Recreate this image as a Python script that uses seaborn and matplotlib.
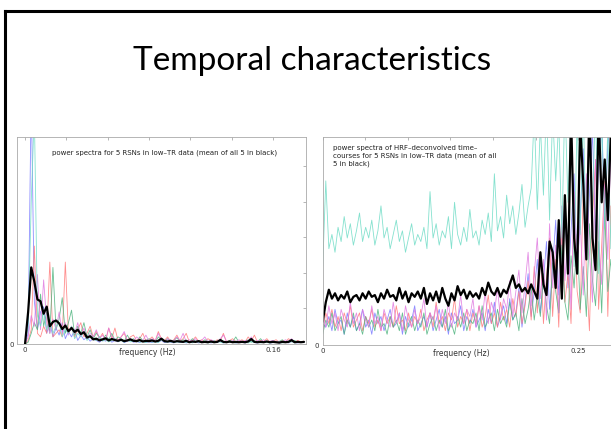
import numpy as np
import pandas as pd
import matplotlib
matplotlib.use('Agg')
import matplotlib.pyplot as plt
import seaborn as sns

# %%
# Values read off the two spectra (y in tick units, x sampled evenly)
title = 'Temporal characteristics'
left_caption = 'power spectra for 5 RSNs in low\u2013TR data (mean of all 5 in black)'
right_caption = ('power spectra of HRF\u2013deconvolved time\u2013\n'
                 'courses for 5 RSNs in low\u2013TR data (mean of all\n'
                 '5 in black)')
rsn_names = ['blue', 'red', 'green', 'magenta', 'cyan']
rsn_colors = {'blue': '#7a7aff', 'red': '#ff7a7a', 'green': '#4fb47f',
              'magenta': '#e07ae0', 'cyan': '#6fdcc6'}

# left panel: 0 .. 0.18 Hz
mean_left = [0.0, 0.9, 2.15, 1.75, 1.25, 1.2, 0.85, 1.05, 0.5, 0.62,
             0.66, 0.58, 0.42, 0.52, 0.36, 0.45, 0.34, 0.40, 0.28, 0.33,
             0.18, 0.22, 0.13, 0.15, 0.10, 0.13, 0.16, 0.10, 0.14, 0.11,
             0.09, 0.12, 0.08, 0.10, 0.13, 0.09, 0.08, 0.11, 0.07, 0.09,
             0.08, 0.10, 0.07, 0.09, 0.15, 0.08, 0.07, 0.09, 0.06, 0.08,
             0.07, 0.06, 0.09, 0.05, 0.07, 0.06, 0.08, 0.05, 0.06, 0.05,
             0.07, 0.05, 0.06, 0.11, 0.06, 0.05, 0.07, 0.05, 0.06, 0.05,
             0.06, 0.05, 0.07, 0.14, 0.06, 0.05, 0.06, 0.05, 0.07, 0.05,
             0.06, 0.05, 0.04, 0.06, 0.05, 0.06, 0.11, 0.05, 0.06, 0.05,
             0.06]
blue_left = [0.0, 0.3, 7.0, 1.2, 0.4, 0.9, 1.05, 0.3, 0.6, 0.2,
             0.45, 0.25, 0.6, 0.15, 0.35, 0.2, 0.4, 0.1, 0.25, 0.12,
             0.2, 0.08, 0.15, 0.1, 0.05, 0.12, 0.08, 0.15, 0.05, 0.1,
             0.06, 0.12, 0.04, 0.08, 0.1, 0.05, 0.07, 0.04, 0.09, 0.05,
             0.06, 0.04, 0.08, 0.05, 0.1, 0.04, 0.06, 0.05, 0.03, 0.07,
             0.04, 0.06, 0.03, 0.05, 0.04, 0.07, 0.03, 0.05, 0.04, 0.06,
             0.03, 0.05, 0.04, 0.08, 0.03, 0.05, 0.04, 0.06, 0.03, 0.04,
             0.05, 0.03, 0.06, 0.08, 0.04, 0.03, 0.05, 0.04, 0.06, 0.03,
             0.04, 0.05, 0.03, 0.04, 0.06, 0.03, 0.07, 0.04, 0.03, 0.05,
             0.04]
red_left = [0.0, 0.1, 0.4, 2.75, 0.3, 0.2, 0.5, 0.3, 2.3, 0.2,
            0.3, 0.4, 0.2, 2.3, 0.3, 0.5, 0.2, 0.4, 0.6, 0.2,
            0.3, 0.5, 0.2, 0.35, 0.15, 0.3, 0.1, 0.45, 0.15, 0.45,
            0.1, 0.2, 0.3, 0.08, 0.2, 0.25, 0.1, 0.15, 0.3, 0.08,
            0.12, 0.2, 0.08, 0.35, 0.15, 0.1, 0.2, 0.07, 0.12, 0.25,
            0.08, 0.15, 0.3, 0.06, 0.1, 0.2, 0.08, 0.12, 0.06, 0.15,
            0.1, 0.05, 0.12, 0.08, 0.3, 0.06, 0.1, 0.15, 0.05, 0.08,
            0.12, 0.06, 0.2, 0.08, 0.25, 0.05, 0.1, 0.07, 0.15, 0.05,
            0.08, 0.12, 0.05, 0.1, 0.06, 0.15, 0.08, 0.05, 0.1, 0.06,
            0.08]
green_left = [0.0, 0.05, 0.3, 0.6, 0.4, 1.4, 0.5, 0.9, 0.3, 2.15,
              0.4, 0.7, 1.3, 0.3, 0.6, 0.95, 0.25, 0.5, 0.3, 0.6,
              0.2, 0.4, 0.15, 0.3, 0.2, 0.1, 0.25, 0.12, 0.3, 0.1,
              0.2, 0.15, 0.08, 0.25, 0.1, 0.15, 0.06, 0.2, 0.1, 0.08,
              0.15, 0.1, 0.06, 0.2, 0.12, 0.08, 0.15, 0.05, 0.1, 0.18,
              0.06, 0.12, 0.08, 0.05, 0.15, 0.07, 0.1, 0.05, 0.12, 0.08,
              0.06, 0.1, 0.05, 0.14, 0.07, 0.05, 0.1, 0.06, 0.2, 0.05,
              0.08, 0.06, 0.12, 0.05, 0.09, 0.06, 0.15, 0.05, 0.08, 0.06,
              0.1, 0.05, 0.07, 0.12, 0.05, 0.08, 0.06, 0.1, 0.05, 0.07,
              0.06]
magenta_left = [0.0, 0.2, 0.8, 0.5, 1.95, 0.4, 1.8, 0.6, 0.3, 0.7,
                0.4, 0.9, 0.3, 0.6, 0.25, 0.5, 0.3, 0.6, 0.2, 0.45,
                0.15, 0.3, 0.2, 0.4, 0.15, 0.25, 0.1, 0.45, 0.2, 0.15,
                0.1, 0.2, 0.35, 0.1, 0.15, 0.08, 0.2, 0.12, 0.1, 0.25,
                0.08, 0.15, 0.1, 0.3, 0.12, 0.06, 0.15, 0.1, 0.08, 0.2,
                0.1, 0.3, 0.06, 0.12, 0.08, 0.15, 0.05, 0.1, 0.2, 0.06,
                0.12, 0.08, 0.05, 0.15, 0.25, 0.08, 0.06, 0.1, 0.05, 0.12,
                0.06, 0.1, 0.08, 0.2, 0.05, 0.1, 0.07, 0.12, 0.05, 0.08,
                0.1, 0.06, 0.08, 0.05, 0.12, 0.07, 0.15, 0.05, 0.08, 0.06,
                0.07]
cyan_left = [0.0, 0.5, 4.0, 6.5, 0.8, 0.5, 0.9, 0.4, 0.7, 0.3,
             0.5, 0.6, 0.2, 0.4, 0.3, 0.5, 0.15, 0.3, 0.2, 0.35,
             0.1, 0.2, 0.15, 0.1, 0.2, 0.08, 0.12, 0.06, 0.1, 0.15,
             0.07, 0.1, 0.05, 0.12, 0.06, 0.08, 0.1, 0.05, 0.07, 0.04,
             0.09, 0.05, 0.07, 0.04, 0.12, 0.06, 0.05, 0.08, 0.04, 0.06,
             0.05, 0.07, 0.04, 0.06, 0.03, 0.08, 0.05, 0.04, 0.06, 0.03,
             0.05, 0.04, 0.07, 0.05, 0.03, 0.06, 0.04, 0.05, 0.03, 0.06,
             0.04, 0.05, 0.03, 0.07, 0.04, 0.06, 0.03, 0.05, 0.04, 0.03,
             0.05, 0.04, 0.06, 0.03, 0.05, 0.04, 0.08, 0.03, 0.05, 0.04,
             0.05]

# right panel: 0 .. 0.285 Hz
mean_right = [0.65, 1.2, 1.55, 1.3, 1.45, 1.25, 1.4, 1.3, 1.5, 1.2,
              1.35, 1.4, 1.25, 1.45, 1.3, 1.5, 1.35, 1.4, 1.2, 1.45,
              1.3, 1.55, 1.35, 1.4, 1.25, 1.6, 1.3, 1.5, 1.2, 1.45,
              1.35, 1.5, 1.3, 1.6, 1.15, 1.45, 1.25, 1.5, 1.2, 1.6,
              1.3, 1.1, 1.45, 1.25, 1.65, 1.4, 1.55, 1.3, 1.5, 1.35,
              1.45, 1.3, 1.6, 1.4, 1.75, 1.5, 1.4, 1.6, 1.35, 1.55,
              1.45, 1.7, 1.95, 1.6, 1.7, 1.5, 1.6, 1.45, 1.7, 1.5,
              1.3, 2.6, 1.7, 1.4, 2.9, 2.6, 1.6, 3.5, 1.3, 4.2,
              2.0, 6.5, 3.0, 2.0, 6.2, 4.5, 2.4, 6.8, 3.0, 2.1,
              6.5, 4.0, 5.2, 3.5, 6.0, 4.8]
blue_right = [0.6, 0.5, 0.8, 0.4, 1.0, 0.6, 0.7, 0.3, 0.9, 0.5,
              0.8, 0.4, 0.6, 1.0, 0.5, 0.7, 0.3, 0.9, 0.6, 0.8,
              0.4, 0.7, 1.0, 0.5, 0.6, 0.9, 0.3, 0.8, 0.5, 0.7,
              1.1, 0.4, 0.6, 0.8, 0.5, 0.9, 0.4, 0.7, 1.0, 0.5,
              0.8, 0.3, 0.9, 0.6, 0.7, 1.1, 0.4, 0.8, 0.6, 1.0,
              0.5, 0.7, 0.9, 0.4, 1.0, 0.6, 1.2, 0.5, 0.8, 1.1,
              0.6, 1.3, 0.7, 0.9, 1.6, 0.5, 1.2, 2.0, 0.8, 1.5,
              2.4, 0.9, 1.8, 2.9, 1.0, 2.2, 3.5, 1.4, 2.7, 4.0,
              1.6, 3.2, 4.8, 2.0, 3.6, 5.5, 2.5, 4.2, 6.0, 3.0,
              5.0, 6.3, 3.4, 5.6, 6.5, 4.1]
red_right = [0.4, 0.9, 0.6, 1.0, 0.5, 0.8, 0.4, 0.9, 0.6, 1.1,
             0.5, 0.7, 0.9, 0.4, 0.8, 0.6, 1.0, 0.5, 0.7, 0.4,
             0.9, 0.6, 0.8, 0.5, 1.1, 0.6, 0.7, 0.4, 0.9, 0.5,
             0.8, 0.6, 1.0, 0.4, 0.7, 0.9, 0.5, 1.2, 0.6, 0.8,
             0.4, 0.9, 0.7, 1.3, 0.5, 0.8, 0.6, 1.0, 0.4, 0.9,
             0.6, 1.1, 0.5, 0.8, 1.4, 0.6, 0.9, 0.5, 1.2, 0.7,
             1.0, 0.5, 1.3, 0.8, 1.5, 0.6, 1.1, 1.8, 0.7, 2.2,
             0.9, 2.6, 0.6, 1.9, 3.0, 0.8, 2.4, 0.5, 3.3, 1.2,
             2.0, 0.6, 3.8, 1.5, 0.9, 4.4, 2.1, 0.4, 3.6, 5.2,
             1.0, 2.8, 4.6, 0.8, 3.9, 2.2]
green_right = [0.3, 0.7, 0.5, 0.9, 0.4, 0.6, 0.8, 0.3, 0.7, 0.5,
               0.9, 0.4, 0.6, 0.3, 0.8, 0.5, 0.7, 0.4, 1.0, 0.5,
               0.6, 0.3, 0.8, 0.5, 0.7, 0.4, 0.9, 0.3, 0.6, 0.8,
               0.4, 0.7, 0.5, 0.9, 0.3, 0.6, 0.8, 0.4, 0.7, 0.5,
               1.0, 0.4, 0.6, 0.3, 0.8, 0.5, 0.9, 0.4, 0.7, 0.6,
               0.9, 0.4, 1.1, 0.5, 0.7, 0.9, 0.4, 1.0, 0.6, 0.8,
               0.5, 1.2, 0.7, 0.9, 0.4, 1.3, 0.6, 1.0, 1.6, 0.7,
               1.4, 0.8, 2.0, 1.1, 0.6, 2.3, 1.5, 0.9, 2.8, 1.2,
               0.7, 2.5, 1.6, 3.1, 1.0, 2.2, 0.8, 3.4, 1.8, 1.1,
               2.9, 0.9, 3.7, 1.5, 2.4, 1.2]
magenta_right = [0.8, 0.5, 1.1, 0.6, 0.9, 0.4, 1.0, 0.7, 0.5, 1.2,
                 0.6, 0.9, 0.4, 1.0, 0.7, 0.5, 1.1, 0.6, 0.8, 0.4,
                 1.0, 0.7, 0.5, 1.2, 0.6, 0.9, 0.4, 1.1, 0.7, 0.5,
                 1.0, 0.6, 0.8, 1.3, 0.5, 0.9, 0.7, 1.1, 0.4, 1.0,
                 0.6, 1.2, 0.5, 0.9, 0.7, 1.4, 0.6, 1.0, 0.8, 1.3,
                 0.5, 1.1, 0.7, 1.5, 0.6, 1.2, 0.9, 1.6, 0.7, 1.3,
                 1.0, 1.8, 0.8, 1.5, 2.1, 0.9, 1.7, 2.6, 1.1, 2.0,
                 3.0, 1.3, 2.4, 0.7, 3.4, 1.6, 2.8, 0.9, 3.9, 1.8,
                 3.1, 1.0, 4.3, 2.2, 3.5, 1.4, 4.8, 2.6, 1.2, 5.2,
                 3.0, 1.7, 4.5, 2.4, 5.6, 3.3]
cyan_right = [2.2, 4.6, 2.7, 3.1, 2.6, 3.3, 2.9, 3.6, 3.0, 3.4,
              2.8, 3.2, 3.7, 2.9, 3.3, 3.0, 3.5, 2.8, 3.2, 3.9,
              3.0, 3.3, 2.7, 3.1, 3.5, 2.9, 3.2, 2.6, 3.0, 3.4,
              2.8, 3.1, 2.9, 3.3, 2.7, 4.3, 3.0, 3.4, 2.8, 3.2,
              3.0, 3.6, 2.7, 4.0, 3.1, 2.8, 3.3, 2.9, 3.8, 3.0,
              3.2, 2.8, 3.5, 3.1, 3.7, 2.9, 4.8, 3.2, 3.6, 3.0,
              4.2, 3.4, 3.9, 3.1, 3.7, 4.5, 3.3, 3.9, 4.4, 6.5,
              3.8, 6.2, 4.2, 6.8, 3.5, 6.5, 4.6, 6.3, 3.0, 6.9,
              4.0, 6.6, 2.2, 6.4, 3.1, 6.7, 2.5, 6.2, 3.8, 6.9,
              2.0, 6.5, 3.3, 6.1, 2.7, 6.6]

freq_left = np.linspace(0, 0.18, len(mean_left))
freq_right = np.linspace(0, 0.285, len(mean_right))

# %%
# Long tables for seaborn
def long_table(freq, series):
    parts = [pd.DataFrame({'freq': freq, 'power': vals, 'rsn': name})
             for name, vals in series.items()]
    return pd.concat(parts, ignore_index=True)

df_left = long_table(freq_left, {'blue': blue_left, 'red': red_left, 'green': green_left,
                                 'magenta': magenta_left, 'cyan': cyan_left})
df_right = long_table(freq_right, {'blue': blue_right, 'red': red_right, 'green': green_right,
                                   'magenta': magenta_right, 'cyan': cyan_right})

# %%
sns.set_style('white')
plt.rcParams['font.family'] = ['DejaVu Sans']

fig = plt.figure(figsize=(6.11, 4.29), dpi=100)
fig.patch.set_facecolor('white')

ax_l = fig.add_axes([0.0283, 0.1981, 0.4725, 0.4825])
ax_r = fig.add_axes([0.5282, 0.1958, 0.5017, 0.4848])


def draw_panel(ax, df, freq, mean):
    sns.lineplot(data=df, x='freq', y='power', hue='rsn', hue_order=rsn_names,
                 palette=rsn_colors, estimator=None, sort=False, lw=0.6,
                 alpha=0.85, legend=False, ax=ax)
    sns.lineplot(x=freq, y=mean, color='black', lw=1.6, estimator=None,
                 sort=False, ax=ax)


def style_panel(ax, xlim, ylim, xticks, xlabels, label_x):
    ax.set_xlim(xlim)
    ax.set_ylim(ylim)
    ax.set_xticks(xticks)
    ax.set_xticklabels(xlabels)
    ax.set_yticks(range(6))
    ax.set_yticklabels(['0', '', '', '', '', ''])
    ax.tick_params(direction='in', length=2.5, width=0.5, colors='#999999',
                   labelcolor='#333333', labelsize=5, top=True, right=True, pad=2.5)
    for s in ax.spines.values():
        s.set_color('#aaaaaa')
        s.set_linewidth(0.6)
    ax.set_ylabel('')
    ax.set_xlabel('frequency (Hz)', fontsize=5.5, color='#333333')
    ax.xaxis.set_label_coords(label_x, -0.02)


draw_panel(ax_l, df_left, freq_left, mean_left)
style_panel(ax_l, (-0.005, 0.1813), (0, 5.81),
            [0.16 * k / 6 for k in range(7)], ['0', '', '', '', '', '', '0.16'], 0.449)

draw_panel(ax_r, df_right, freq_right, mean_right)
style_panel(ax_r, (0, 0.30), (0, 5.83),
            [0.25 * k / 6 for k in range(8)], ['0', '', '', '', '', '', '0.25', ''], 0.451)

# panel captions
fig.text(52 / 611, 1 - 155 / 429, left_caption, fontsize=5, color='#222222', va='baseline')
fig.text(333 / 611, 1 - 145 / 429, right_caption, fontsize=5, color='#222222',
         va='top', linespacing=1.3)

# slide title
fig.text(0.511, 1 - 70 / 429, title, fontsize=24, family=['Lato', 'DejaVu Sans'],
         ha='center', va='baseline', color='black')

# slide frame (left and top edges)
x0 = 4.5 / 611
y0 = 1 - 11 / 429
fig.add_artist(plt.Line2D([x0, x0], [-0.1, y0], transform=fig.transFigure,
                          color='black', lw=2.2, solid_capstyle='projecting'))
fig.add_artist(plt.Line2D([x0, 1.1], [y0, y0], transform=fig.transFigure,
                          color='black', lw=2.2, solid_capstyle='projecting'))

fig.savefig('out.png', dpi=100)
plt.close()
